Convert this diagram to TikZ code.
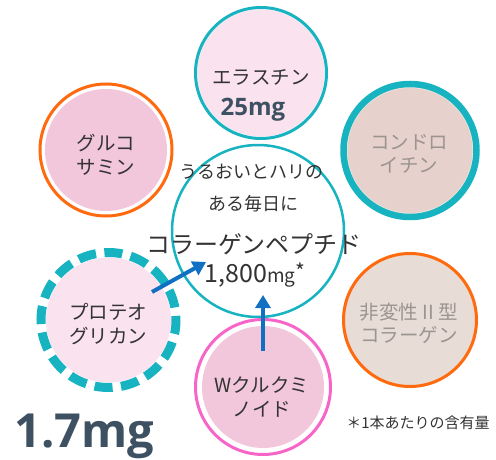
\documentclass[tikz,border=0pt]{standalone}
\usepackage{fontspec}
\setmainfont{Noto Sans CJK JP}
\newfontfamily\numfont{Open Sans}
\usetikzlibrary{arrows.meta}
\definecolor{teal1}{HTML}{17B3C1}
\definecolor{orange1}{HTML}{FF6A0F}
\definecolor{pink1}{HTML}{F765C9}
\definecolor{pinklight}{HTML}{FAE2EE}
\definecolor{pinkmid}{HTML}{F3C7DB}
\definecolor{beige1}{HTML}{E7DCD6}
\definecolor{beige2}{HTML}{E6D1CC}
\definecolor{rim}{HTML}{EEE8DC}
\definecolor{txtdark}{HTML}{333333}
\definecolor{txtgrey}{HTML}{9C9490}
\definecolor{slate}{HTML}{3D5162}
\definecolor{arrowblue}{HTML}{1170C2}
\tikzset{
  disc/.style={circle, inner sep=0pt},
  ctext/.style={inner sep=0pt, text=txtdark, align=center},
  disctext/.style={ctext, font=\fontsize{19.5}{24}\selectfont},
  bluearrow/.style={arrowblue, line width=4pt,
    -{Triangle[length=13pt,width=15pt]}},
}
\begin{document}
\begin{tikzpicture}[x=1pt,y=-1pt]
\useasboundingbox (0,0) rectangle (496,460);

% top: elastin
\node[disc, minimum size=127pt, fill=pinklight] (elastin) at (261,73) {};
\draw[teal1, line width=3pt] (elastin.center) circle (65.5);

% glucosamine
\node[disc, minimum size=122pt, fill=pinkmid] (gluco) at (106,150) {};
\draw[orange1, line width=3pt] (gluco.center) circle (66);

% chondroitin
\node[disc, minimum size=127pt, fill=beige2, draw=rim, line width=2pt] (chondro) at (410,150.5) {};
\draw[teal1, line width=6.5pt] (chondro.center) circle (66.5);

% center
\node[circle, minimum size=172pt, inner sep=0pt, fill=white, draw=teal1, line width=2.5pt] (center) at (258,231) {};

% proteoglycan
\node[disc, minimum size=125pt, fill=pinklight] (proteo) at (108.5,320) {};
\draw[teal1, line width=9pt, dash pattern=on 18pt off 8.5pt, dash phase=4pt] (proteo.center) circle (67.5);

% W curcuminoid
\node[disc, minimum size=122pt, fill=pinkmid] (curcu) at (263,387) {};
\draw[pink1, line width=3pt] (curcu.center) circle (67.5);

% type II collagen
\node[disc, minimum size=132pt, fill=beige1, draw=rim, line width=1.5pt] (collagen2) at (410,320) {};
\draw[orange1, line width=3pt] (collagen2.center) circle (66.5);

% disc labels
\node[disctext] (glucotxt) at (106,155) {グルコ\\サミン};
\node[disctext, text=txtgrey, font=\fontsize{19.5}{22.5}\selectfont] (chondrotxt) at (409,154) {コンドロ\\イチン};
\node[disctext] (proteotxt) at (108,324.5) {プロテオ\\グリカン};
\node[disctext] (curcutxt) at (262,397.5) {Wクルクミ\\ノイド};
\node[disctext, text=txtgrey, font=\fontsize{19.5}{23}\selectfont] (collagen2txt) at (409,323.5) {非変性 II 型\\コラーゲン};

% elastin text
\node[ctext, font=\fontsize{19.5}{24}\selectfont] (elastxt) at (261,77) {エラスチン};
\node[ctext, text=slate, font=\numfont\bfseries\fontsize{24}{28}\selectfont] (elastmg) at (253,110) {25mg};

% center texts
\node[ctext, font=\fontsize{18}{22}\selectfont] (c1) at (251,172) {うるおいとハリの};
\node[ctext, font=\fontsize{18}{22}\selectfont] (c2) at (253,204) {ある毎日に};
\node[ctext, font=\fontsize{24}{28}\selectfont] (c3) at (254,244) {コラーゲンペプチド};
\node[ctext, font=\fontsize{25}{28}\selectfont] (c4) at (255,275) {1,800{\fontsize{19}{20}\selectfont mg}\raisebox{3pt}{\fontsize{21}{22}\selectfont *}};

% arrows
\coordinate (a1s) at (152,292);
\coordinate (a1e) at (206,262);
\coordinate (a2s) at (263,351);
\coordinate (a2e) at (263,295);
\draw[bluearrow] (a1s) -- (a1e);
\draw[bluearrow] (a2s) -- (a2e);

% footnote and big number
\node[ctext, font=\fontsize{15}{17}\selectfont] (note) at (418,423) {＊1本あたりの含有量};
\node[ctext, anchor=base west, text=slate, font=\numfont\bfseries\fontsize{47}{52}\selectfont] (big) at (14,447) {1.7mg};
\end{tikzpicture}
\end{document}
